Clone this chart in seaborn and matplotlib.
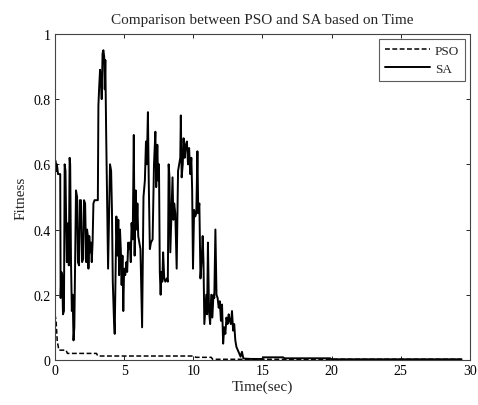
import matplotlib
matplotlib.use("Agg")
import matplotlib.pyplot as plt
import seaborn as sns
import pandas as pd
from matplotlib.ticker import FuncFormatter

# ---- data ----
sa_time = [0.00, 0.05, 0.10, 0.14, 0.22, 0.38, 0.41, 0.46, 0.52, 0.58,
           0.65, 0.70, 0.76, 0.80, 0.86, 0.90, 0.96, 1.00, 1.06, 1.10,
           1.16, 1.22, 1.28, 1.34, 1.40, 1.46, 1.52, 1.60, 1.66, 1.74,
           1.80, 1.88, 1.96, 2.04, 2.10, 2.18, 2.26, 2.32, 2.38, 2.42,
           2.48, 2.54, 2.60, 2.66, 2.72, 2.78, 2.86, 3.10, 3.14, 3.20,
           3.26, 3.32, 3.38, 3.44, 3.50, 3.56, 3.60, 3.64, 3.70, 3.78,
           3.84, 3.92, 3.98, 4.06, 4.12, 4.18, 4.26, 4.32, 4.38, 4.44,
           4.52, 4.58, 4.64, 4.70, 4.76, 4.82, 4.88, 4.94, 5.00, 5.08,
           5.16, 5.22, 5.30, 5.36, 5.42, 5.48, 5.54, 5.62, 5.70, 5.76,
           5.84, 5.90, 5.96, 6.02, 6.10, 6.18, 6.30, 6.40, 6.50, 6.58,
           6.64, 6.72, 6.78, 6.86, 6.94, 7.06, 7.16, 7.26, 7.32, 7.40,
           7.46, 7.52, 7.58, 7.64, 7.70, 7.76, 7.82, 7.90, 7.98, 8.08,
           8.16, 8.22, 8.28, 8.34, 8.42, 8.50, 8.56, 8.62, 8.70, 8.80,
           8.90, 8.98, 9.06, 9.10, 9.16, 9.24, 9.30, 9.38, 9.46, 9.54,
           9.62, 9.70, 9.78, 9.86, 9.92, 9.98, 10.06, 10.14, 10.22, 10.30,
           10.36, 10.44, 10.52, 10.60, 10.68, 10.74, 10.80, 10.86, 10.94, 11.00,
           11.06, 11.14, 11.22, 11.30, 11.38, 11.46, 11.52, 11.60, 11.68, 11.76,
           11.84, 11.92, 12.00, 12.08, 12.16, 12.24, 12.32, 12.40, 12.48, 12.56,
           12.64, 12.72, 12.80, 12.88, 12.96, 13.04, 13.12, 13.22, 13.32, 13.42,
           13.52, 13.62, 13.72, 14.20, 15.00, 15.05, 16.50, 16.60, 19.90, 20.00,
           29.40]
sa_fitness = [0.61, 0.61, 0.58, 0.60, 0.57, 0.57, 0.19, 0.27, 0.26, 0.14,
              0.15, 0.60, 0.58, 0.45, 0.30, 0.38, 0.42, 0.29, 0.62, 0.60,
              0.30, 0.15, 0.20, 0.06, 0.10, 0.30, 0.52, 0.50, 0.30, 0.29,
              0.49, 0.49, 0.30, 0.31, 0.49, 0.48, 0.30, 0.40, 0.38, 0.28,
              0.38, 0.33, 0.36, 0.30, 0.36, 0.48, 0.49, 0.49, 0.78, 0.84,
              0.89, 0.86, 0.80, 0.94, 0.95, 0.93, 0.83, 0.92, 0.70, 0.45,
              0.28, 0.46, 0.60, 0.58, 0.46, 0.24, 0.13, 0.08, 0.26, 0.44,
              0.32, 0.43, 0.26, 0.40, 0.34, 0.23, 0.32, 0.15, 0.28, 0.26,
              0.30, 0.27, 0.36, 0.34, 0.36, 0.30, 0.42, 0.37, 0.69, 0.32,
              0.52, 0.40, 0.48, 0.38, 0.36, 0.34, 0.10, 0.50, 0.55, 0.67,
              0.60, 0.76, 0.55, 0.34, 0.36, 0.37, 0.60, 0.70, 0.53, 0.66,
              0.55, 0.60, 0.27, 0.20, 0.27, 0.24, 0.33, 0.25, 0.24, 0.25,
              0.24, 0.60, 0.56, 0.33, 0.44, 0.56, 0.43, 0.48, 0.45, 0.28,
              0.58, 0.60, 0.62, 0.75, 0.56, 0.60, 0.68, 0.62, 0.66, 0.67,
              0.60, 0.65, 0.57, 0.62, 0.52, 0.28, 0.46, 0.44, 0.45, 0.64,
              0.45, 0.48, 0.25, 0.30, 0.38, 0.30, 0.11, 0.15, 0.20, 0.14,
              0.36, 0.15, 0.11, 0.20, 0.13, 0.20, 0.19, 0.40, 0.20, 0.19,
              0.16, 0.18, 0.12, 0.17, 0.05, 0.10, 0.08, 0.13, 0.11, 0.14,
              0.12, 0.11, 0.15, 0.09, 0.11, 0.06, 0.04, 0.03, 0.02, 0.01,
              0.025, 0.005, 0.004, 0.003, 0.003, 0.008, 0.008, 0.005, 0.005, 0.002,
              0.002]

pso_time = [0.00, 0.08, 0.16, 0.28, 0.80, 0.90, 3.00, 3.10, 10.00, 10.20, 11.30, 11.40, 29.40]
pso_fitness = [0.14, 0.12, 0.06, 0.030, 0.030, 0.020, 0.020, 0.012, 0.012, 0.008, 0.008, 0.002, 0.002]

x_ticks = [0, 5, 10, 15, 20, 25, 30]
y_ticks = [0, 0.2, 0.4, 0.6, 0.8, 1.0]
series_names = ["PSO", "SA"]
title_text = "Comparison between PSO and SA based on Time"
x_label = "Time(sec)"
y_label = "Fitness"

# ---- style ----
sns.set_style("ticks")
plt.rcParams["font.family"] = ["Liberation Serif", "DejaVu Serif"]
plt.rcParams["xtick.direction"] = "in"
plt.rcParams["ytick.direction"] = "in"
plt.rcParams["xtick.top"] = True
plt.rcParams["ytick.right"] = True

fig = plt.figure(figsize=(4.78, 4.06), dpi=100)
ax = fig.add_axes([0.115, 0.111, 0.868, 0.803])

pso_df = pd.DataFrame({"Time": pso_time, "Fitness": pso_fitness})
sa_df = pd.DataFrame({"Time": sa_time, "Fitness": sa_fitness})

sns.lineplot(data=pso_df, x="Time", y="Fitness", ax=ax, color="black",
             linestyle=(0, (3.2, 1.6)), linewidth=1.1, label=series_names[0],
             sort=False, estimator=None)
sns.lineplot(data=sa_df, x="Time", y="Fitness", ax=ax, color="black",
             linestyle="-", linewidth=1.4, label=series_names[1],
             sort=False, estimator=None)

ax.set_xlim(0, 30)
ax.set_ylim(0, 1)
ax.set_xticks(x_ticks)
ax.set_yticks(y_ticks)
fmt = FuncFormatter(lambda v, p: "%g" % v)
ax.xaxis.set_major_formatter(fmt)
ax.yaxis.set_major_formatter(fmt)
ax.tick_params(labelsize=10, length=3, width=0.6, colors="black", pad=3)
for s in ax.spines.values():
    s.set_visible(True)
    s.set_linewidth(0.8)
    s.set_color("#444444")

ax.set_title(title_text, fontsize=11, pad=8)
ax.set_xlabel(x_label, fontsize=11, labelpad=2)
ax.set_ylabel(y_label, fontsize=11, labelpad=4)

leg = ax.legend(loc="upper right", fontsize=9.5, handlelength=3.4, frameon=True,
                fancybox=False, edgecolor="#333333", borderpad=0.45,
                labelspacing=0.45, handletextpad=0.4, borderaxespad=0.35)
leg.get_frame().set_linewidth(0.8)

fig.savefig("out.png", dpi=100)
